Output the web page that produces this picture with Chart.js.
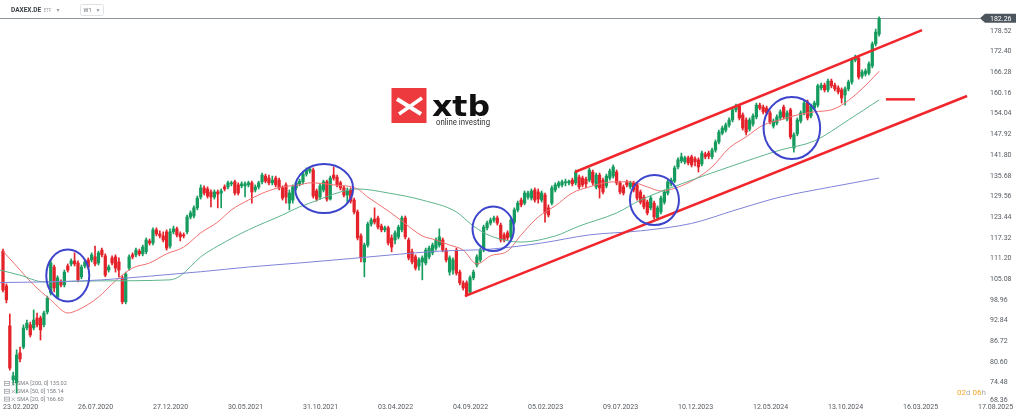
<!DOCTYPE html>
<html><head><meta charset="utf-8">
<script src="https://cdn.jsdelivr.net/npm/chart.js@4.4.1/dist/chart.umd.min.js"></script>
<style>html,body{margin:0;padding:0;background:#fff;overflow:hidden}canvas{display:block}</style>
</head><body>
<canvas id="c" width="1024" height="417" style="width:1024px;height:417px"></canvas>
<script>
// ---- tick labels ----
const dateLabels = ['23.02.2020','26.07.2020','27.12.2020','30.05.2021','31.10.2021','03.04.2022','04.09.2022','05.02.2023','09.07.2023','10.12.2023','12.05.2024','13.10.2024','16.03.2025','17.08.2025'];
const dateTickWeeks = [0,22,44,66,88,110,132,154,176,198,220,242,264,286];
const priceTicks = [178.52,172.40,166.28,160.16,154.04,147.92,141.80,135.68,129.56,123.44,117.32,111.20,105.08,98.96,92.84,86.72,80.60,74.48,68.36];
const lastPrice = 182.26;

// ---- weekly candles (week index = position in arrays) ----
const opens = [
113.4,103.1,91.3,75.3,74.4,83.3,85.0,90.7,91.6,90.7,
93.6,93.6,91.6,95.4,101.0,108.7,99.8,104.3,103.4,109.0,
109.6,110.5,109.9,105.8,109.0,110.8,110.8,111.7,109.9,113.7,
112.0,107.8,111.4,111.7,110.2,105.5,98.4,108.4,112.3,112.3,
113.4,112.6,113.2,116.4,115.8,119.7,118.5,117.9,119.1,114.9,
119.1,120.0,118.5,118.2,119.1,123.5,123.8,126.2,129.4,132.1,
131.8,130.9,129.4,130.9,130.6,132.4,132.4,133.3,133.9,133.0,
132.7,132.7,133.0,133.6,131.5,132.4,133.9,135.6,135.0,133.6,
135.0,134.4,132.1,133.0,127.6,128.5,132.1,133.3,133.9,136.2,
137.1,137.4,131.2,129.4,131.5,133.9,128.8,135.9,135.3,133.6,
132.1,130.0,131.5,128.5,125.0,117.9,110.2,115.2,121.4,122.9,
123.2,120.8,119.7,120.3,117.3,116.7,117.6,119.7,123.2,116.7,
113.2,111.7,109.0,110.2,109.9,111.7,112.9,114.3,115.2,116.7,
113.7,107.2,107.8,113.7,107.2,104.0,104.0,101.3,105.5,109.3,
110.8,113.7,120.3,121.7,122.6,123.2,121.1,118.2,118.8,117.6,
122.0,125.6,128.5,127.6,129.4,129.1,131.5,130.9,128.5,130.0,
126.2,127.6,131.5,132.7,133.0,133.6,133.6,134.4,133.6,135.3,
135.0,134.7,134.4,136.8,132.4,135.9,134.4,132.7,135.0,135.6,
136.8,133.6,132.4,133.9,132.4,133.6,133.0,130.9,129.4,127.9,
126.2,127.6,123.2,125.0,127.9,130.6,133.3,134.1,138.3,140.1,
139.8,141.0,141.3,140.7,140.4,139.2,142.1,142.4,141.3,143.3,
145.7,148.3,149.2,150.7,152.2,155.2,156.3,153.7,152.2,149.5,
151.0,153.1,156.6,156.0,155.7,154.3,150.4,151.3,152.8,156.0,
152.5,155.2,143.9,148.1,151.9,154.3,157.5,153.4,155.7,156.6,
161.7,162.5,161.1,163.7,162.5,161.7,161.1,159.6,161.4,163.4,
169.9,170.5,165.2,165.8,166.1,168.2,174.7,177.6];
const highs = [
114.0,103.7,94.8,77.6,84.2,85.0,91.6,93.0,92.4,96.0,
95.1,94.2,95.7,100.1,110.8,109.3,106.1,104.9,107.8,109.6,
111.1,112.9,110.5,109.3,110.8,111.4,112.9,114.9,113.4,114.3,
112.6,109.3,112.0,112.3,111.4,106.1,107.2,112.3,112.9,114.3,
114.0,115.2,117.3,117.0,120.3,120.3,119.4,119.1,119.7,120.0,
120.8,120.5,119.1,118.8,124.1,125.3,126.8,129.7,133.0,132.7,
132.4,131.5,131.5,131.5,131.8,133.0,134.1,134.1,134.4,133.6,
133.9,133.9,134.1,134.1,133.0,134.1,136.5,136.2,135.9,135.6,
135.6,135.0,132.7,133.6,131.5,133.0,134.1,134.7,136.8,138.0,
138.3,138.0,131.8,133.3,134.4,134.4,135.6,138.3,135.9,134.1,
132.7,132.1,132.1,129.1,125.6,118.5,115.8,122.0,123.2,126.2,
123.8,121.4,120.8,120.8,118.2,119.4,121.1,123.8,123.8,117.3,
114.0,112.3,111.4,112.0,114.3,114.9,115.8,117.3,120.0,117.3,
114.3,112.0,111.4,114.3,107.8,104.6,104.6,106.1,107.8,112.3,
114.3,121.1,122.3,123.2,123.8,123.8,121.7,118.8,119.4,123.2,
126.2,128.2,129.1,131.2,131.2,131.8,132.1,131.8,131.2,130.6,
127.1,132.7,133.6,134.1,134.4,134.7,134.4,135.0,137.4,135.9,
135.6,135.3,138.0,137.4,136.5,136.5,135.0,136.2,137.7,138.9,
137.4,134.1,133.0,134.4,134.1,134.1,133.6,131.5,130.0,128.5,
129.7,128.2,126.8,129.7,131.5,134.4,135.0,138.6,141.0,142.4,
141.5,141.5,141.8,141.3,141.0,143.0,142.7,143.0,143.9,146.3,
149.2,150.4,151.3,152.8,155.7,156.9,156.9,154.3,152.8,152.8,
154.0,157.2,157.2,156.6,156.3,154.9,152.5,153.7,155.2,156.6,
154.9,155.7,148.4,152.8,154.9,157.8,158.1,156.9,157.8,162.8,
163.1,163.1,164.3,164.3,163.1,162.3,161.7,162.0,164.0,170.5,
171.4,171.1,167.0,167.3,169.4,175.3,179.1,182.7];
const lows = [
101.3,98.1,78.2,73.8,71.4,80.6,84.5,90.1,88.0,90.1,
91.0,87.1,91.0,94.8,100.4,101.3,99.3,102.8,102.8,107.2,
109.0,109.0,104.3,105.2,108.4,108.1,110.2,109.0,109.3,111.7,
105.8,107.2,109.3,107.2,105.8,97.8,97.8,107.8,111.1,111.7,
112.0,112.0,112.6,115.2,115.2,117.9,117.3,116.1,113.7,114.3,
118.5,117.6,116.4,117.3,118.5,122.9,123.2,125.6,128.8,130.0,
129.1,126.5,128.8,126.2,126.2,131.2,131.8,132.7,130.0,130.0,
132.1,129.4,132.4,127.6,130.9,131.8,133.3,133.6,133.0,133.0,
132.4,131.5,128.5,127.6,125.6,127.6,131.5,132.7,133.3,135.6,
136.5,129.1,128.2,128.8,130.9,128.2,128.5,134.4,132.4,131.5,
129.4,127.9,127.6,124.4,116.7,110.2,105.8,114.6,120.8,121.4,
120.0,119.1,119.1,115.2,113.2,115.5,117.0,119.1,117.0,110.8,
109.6,107.8,107.8,104.9,109.3,111.1,112.3,113.7,114.6,113.2,
110.2,106.3,106.6,106.3,103.4,101.9,100.1,100.7,104.9,108.7,
110.2,113.2,119.7,121.1,122.0,121.1,116.1,116.1,116.7,117.0,
121.4,125.0,126.5,127.1,128.8,128.5,127.9,127.6,127.9,122.0,
123.5,127.1,130.9,132.1,132.4,132.7,133.0,132.7,133.0,131.8,
132.4,132.1,133.9,133.0,131.8,129.1,130.3,132.1,134.4,135.0,
133.0,130.3,130.0,132.4,131.8,130.9,128.5,127.3,125.9,124.1,
125.6,122.9,122.6,124.4,127.3,130.0,132.7,133.6,137.7,139.5,
139.2,138.9,138.3,138.6,136.8,138.6,140.7,140.7,140.7,142.7,
145.1,147.8,148.6,150.1,151.6,154.6,152.2,149.2,147.8,148.9,
150.4,152.5,155.2,154.0,153.7,151.0,149.8,150.7,152.2,152.5,
151.9,146.6,142.7,147.5,151.3,153.7,152.2,152.8,155.2,156.0,
161.1,160.5,160.5,161.7,160.8,159.9,157.2,156.6,160.8,162.8,
169.4,164.3,164.6,165.2,165.5,167.6,174.1,177.0];
const closes = [
101.9,99.0,78.8,76.5,82.7,81.5,90.7,92.1,88.6,93.0,
91.6,90.1,95.1,99.5,109.9,102.5,105.5,103.4,107.2,107.8,
110.5,109.6,104.9,108.7,110.2,108.7,112.3,109.6,112.9,112.3,
106.3,108.7,109.9,108.4,107.8,98.4,106.6,111.7,111.7,113.7,
112.6,114.6,116.7,115.8,119.7,118.5,117.9,116.7,114.3,119.1,
120.0,118.2,117.6,117.9,123.5,124.7,126.2,129.1,132.1,130.6,
129.7,129.4,130.9,130.3,131.2,131.8,133.6,133.6,130.6,130.6,
133.3,133.3,133.6,130.9,132.4,133.6,135.9,134.1,133.6,134.4,
133.0,132.1,129.1,129.4,130.6,132.4,133.6,134.1,136.2,137.4,
137.7,129.7,128.8,132.7,133.9,128.8,135.0,135.0,133.0,132.1,
130.0,131.2,128.2,125.0,117.3,111.4,115.2,121.4,122.6,122.0,
120.5,119.7,120.3,115.8,114.6,118.8,120.5,123.2,117.6,111.4,
110.2,108.4,110.8,111.4,113.7,114.3,115.2,116.7,117.6,113.7,
110.8,111.4,110.8,106.9,104.0,102.5,100.4,105.5,107.2,111.7,
113.7,120.5,121.7,122.6,123.2,121.7,116.7,116.7,117.3,122.6,
125.6,127.6,127.1,130.6,130.6,131.2,128.5,128.8,130.6,124.7,
124.1,132.1,133.0,133.6,133.9,133.9,134.1,133.3,136.8,132.4,
133.0,133.3,137.4,133.6,135.9,132.1,130.9,135.6,137.1,138.3,
133.6,130.9,130.6,133.0,133.6,131.5,129.1,127.9,126.5,124.7,
129.1,123.5,126.2,129.1,130.9,133.9,134.4,138.0,140.4,141.3,
141.0,139.5,138.9,139.8,138.3,142.4,141.3,141.5,143.3,145.7,
148.6,149.8,150.7,152.2,155.2,156.0,152.8,149.8,148.6,152.2,
153.4,156.6,155.7,154.6,154.3,151.6,151.9,153.1,154.6,153.1,
154.3,147.2,147.8,152.2,154.3,157.2,152.8,156.3,157.2,162.3,
162.5,161.1,163.7,162.3,161.4,160.5,158.7,161.4,163.4,169.9,
170.8,164.9,166.4,166.7,168.8,174.7,178.2,182.26];

// ---- moving averages (week index / value) ----
const sma200Weeks = [-0.9,17,29,43,58,72,87,102,114,128,143,158,172,187,202,215,228,243,257];
const sma200Values = [104.1,104.4,104.9,106.0,107.3,108.7,109.9,111.2,112.3,113.4,114.0,115.8,118.2,119.4,121.6,125.6,129.4,132.4,135.02];
const sma50Weeks = [-0.9,5,12,28,49,52,58,63,72,82,87,90,99,104,113,123,133,138,143,152,162,169,180,187,199,213,228,238,248,257];
const sma50Values = [107.8,106.3,104.3,104.6,104.9,106.1,111.7,114.9,119.7,124.1,126.5,127.6,130.9,131.8,130.6,128.5,125.0,120.8,117.9,116.1,117.9,120.8,124.7,128.5,133.3,138.3,143.3,146.0,152.2,158.14];
const sma20Weeks = [0,5,9,14,19,22,28,33,38,43,48,53,58,63,67,72,77,82,87,90,97,104,107,113,117,123,127,131,135,139,143,148,152,157,162,167,172,179,184,189,193,199,204,208,213,218,223,228,233,238,243,246,250,254,257];
const sma20Values = [113.4,107.8,103.4,99.0,95.1,96.0,99.8,104.6,108.4,109.9,112.6,114.6,118.8,122.0,125.6,128.5,130.9,132.4,133.0,133.6,133.0,131.8,129.4,125.3,122.3,117.9,116.7,115.2,113.7,109.6,112.0,113.4,118.2,123.5,126.8,130.6,132.4,133.9,133.9,132.4,131.2,132.7,135.3,138.3,143.9,147.2,150.7,152.2,153.7,154.6,155.2,156.6,159.6,163.4,166.60];
const smaLegend = ['SMA [200, 0] 135.02','SMA [50, 0] 158.14','SMA [20, 0] 166.60'];

// ---- drawn annotations (week index / price) ----
const channelLowWeeks = [135.5, 282.8];
const channelLowValues = [100.1, 159.3];
const channelHighWeeks = [167.8, 269.6];
const channelHighValues = [136.8, 178.8];
const levelWeeks = [259.0, 267.5];
const levelValues = [158.3, 158.3];
const circleWeeks = [19.0, 94.2, 143.8, 191.1, 231.4];
const circleValues = [106.2, 131.9, 120.0, 128.5, 149.8];

// ---- styles ----
const UP = '#159b5e', DOWN = '#e3222a';
const circleRadii = [[21.5,26],[29,24.5],[20.7,22.2],[24.5,25],[28.3,31]];
const weekIdx = closes.map((_, i) => i);
const candleColors = weekIdx.map(i => closes[i] >= opens[i] ? UP : DOWN);
const pts = (ks, vs) => ks.map((k, i) => ({x: k, y: vs[i]}));

const overlay = {
  id: 'overlay',
  beforeDatasetsDraw(chart) {
    const {ctx, scales: {y}} = chart;
    const py = Math.round(y.getPixelForValue(lastPrice)) + 0.5;
    ctx.save();
    ctx.strokeStyle = '#8e959c'; ctx.lineWidth = 1;
    ctx.beginPath(); ctx.moveTo(0, py); ctx.lineTo(980, py); ctx.stroke();
    ctx.restore();
  },
  afterDatasetsDraw(chart) {
    const {ctx, scales: {x, y}} = chart;
    ctx.save();
    ctx.strokeStyle = '#3d44cc'; ctx.lineWidth = 2;
    circleWeeks.forEach((k, i) => {
      ctx.beginPath();
      ctx.ellipse(x.getPixelForValue(k), y.getPixelForValue(circleValues[i]), circleRadii[i][0], circleRadii[i][1], 0, 0, Math.PI * 2);
      ctx.stroke();
    });
    ctx.restore();
  },
  afterDraw(chart) {
    const {ctx, scales: {y}} = chart;
    ctx.save();
    // price labels
    ctx.font = '7px Roboto'; ctx.fillStyle = '#555b61'; ctx.textAlign = 'left'; ctx.textBaseline = 'middle';
    priceTicks.forEach(v => {
      const py = Math.min(y.getPixelForValue(v), 400);
      ctx.fillText(v.toFixed(2), 990, py);
    });
    // last price tag
    const ty = y.getPixelForValue(lastPrice);
    ctx.fillStyle = '#4c545c';
    ctx.beginPath();
    ctx.moveTo(980, ty); ctx.lineTo(985, ty - 4.5); ctx.lineTo(1016, ty - 4.5); ctx.lineTo(1016, ty + 4.5); ctx.lineTo(985, ty + 4.5); ctx.closePath(); ctx.fill();
    ctx.fillStyle = '#ffffff'; ctx.fillText(lastPrice.toFixed(2), 990, ty + 0.5);
    // header
    ctx.textBaseline = 'middle';
    ctx.font = 'bold 6.5px Roboto'; ctx.fillStyle = '#3a3f44'; ctx.fillText('DAXEX.DE', 11, 10.5);
    const hw = ctx.measureText('DAXEX.DE').width;
    ctx.font = '4.5px Roboto'; ctx.fillStyle = '#9aa0a6'; ctx.fillText('ETF', 11 + hw + 2.5, 10.8);
    ctx.font = '6px DejaVu Sans'; ctx.fillText('\u25BE', 56.5, 10);
    ctx.strokeStyle = '#dfe2e5'; ctx.lineWidth = 1;
    ctx.beginPath(); ctx.roundRect(80.5, 4.5, 23, 11, 2); ctx.stroke();
    ctx.font = '5.5px Roboto'; ctx.fillStyle = '#6a7076'; ctx.fillText('W1', 83.5, 10.5);
    ctx.font = '6px DejaVu Sans'; ctx.fillStyle = '#9aa0a6'; ctx.fillText('\u25BE', 96.5, 10);
    // legend rows
    smaLegend.forEach((t, i) => {
      const ly = 384 + i * 7.8;
      ctx.strokeStyle = '#9ea3a8'; ctx.lineWidth = 0.8;
      ctx.strokeRect(4.5, ly - 2.5, 5, 4);
      ctx.beginPath(); ctx.moveTo(5, ly - 0.5); ctx.lineTo(9.5, ly - 0.5); ctx.stroke();
      ctx.beginPath(); ctx.moveTo(11.5, ly - 2); ctx.lineTo(15, ly + 1.5); ctx.moveTo(15, ly - 2); ctx.lineTo(11.5, ly + 1.5); ctx.stroke();
      ctx.font = '5.6px Roboto'; ctx.fillStyle = '#7a7f85';
      ctx.fillText(t, 17, ly);
    });
    // countdown
    ctx.font = '8px Roboto';
    let cx = 957;
    [['02', '#f5a524'], ['d ', '#a8adb2'], ['06', '#f5a524'], ['h', '#a8adb2']].forEach(([s, c]) => {
      ctx.fillStyle = c; ctx.fillText(s, cx, 392.5); cx += ctx.measureText(s).width;
    });
    // logo
    ctx.fillStyle = '#ec3a3f';
    ctx.fillRect(391.5, 88, 35, 35);
    ctx.strokeStyle = '#ffffff'; ctx.lineCap = 'butt';
    ctx.lineWidth = 4;
    ctx.beginPath(); ctx.moveTo(397, 99); ctx.lineTo(421, 114); ctx.stroke();
    ctx.lineWidth = 3.5;
    ctx.beginPath(); ctx.moveTo(399, 114); ctx.lineTo(422, 98); ctx.stroke();
    ctx.fillStyle = '#ec3a3f';
    ctx.beginPath(); ctx.moveTo(396, 103); ctx.lineTo(403, 106.5); ctx.lineTo(396, 110); ctx.closePath(); ctx.fill();
    ctx.fillStyle = '#111111';
    ctx.font = 'bold 29px "DejaVu Sans"'; ctx.textBaseline = 'alphabetic';
    let w = ctx.measureText('xtb').width;
    ctx.save(); ctx.translate(432, 115.5); ctx.scale(58 / w, 1); ctx.fillText('xtb', 0, 0); ctx.restore();
    ctx.fillStyle = '#333333'; ctx.font = '8.5px Roboto';
    w = ctx.measureText('online investing').width;
    ctx.save(); ctx.translate(436, 124.5); ctx.scale(54 / w, 1); ctx.fillText('online investing', 0, 0); ctx.restore();
    ctx.restore();
  }
};

new Chart(document.getElementById('c'), {
  type: 'bar',
  data: {
    datasets: [
      { type: 'line', data: pts(channelLowWeeks, channelLowValues), borderColor: '#f1262c', borderWidth: 2.5, pointRadius: 0, order: 0 },
      { type: 'line', data: pts(channelHighWeeks, channelHighValues), borderColor: '#f1262c', borderWidth: 2.5, pointRadius: 0, order: 0 },
      { type: 'line', data: pts(levelWeeks, levelValues), borderColor: '#f1262c', borderWidth: 2.5, pointRadius: 0, order: 0 },
      { type: 'line', data: pts(sma200Weeks, sma200Values), borderColor: '#7f83d9', borderWidth: 1, pointRadius: 0, cubicInterpolationMode: 'monotone', order: 1 },
      { type: 'line', data: pts(sma50Weeks, sma50Values), borderColor: '#5db48c', borderWidth: 1, pointRadius: 0, cubicInterpolationMode: 'monotone', order: 1 },
      { type: 'line', data: pts(sma20Weeks, sma20Values), borderColor: '#ef7070', borderWidth: 1, pointRadius: 0, cubicInterpolationMode: 'monotone', order: 1 },
      { type: 'bar', data: weekIdx.map(i => ({x: i, y: [opens[i], closes[i]]})), backgroundColor: candleColors, barThickness: 2.6, minBarLength: 1, grouped: false, borderWidth: 0, order: 2 },
      { type: 'bar', data: weekIdx.map(i => ({x: i, y: [lows[i], highs[i]]})), backgroundColor: candleColors, barThickness: 1, grouped: false, borderWidth: 0, order: 3 }
    ]
  },
  options: {
    responsive: false, animation: false, devicePixelRatio: 1,
    layout: { padding: 0 },
    plugins: { legend: { display: false }, tooltip: { enabled: false } },
    scales: {
      x: {
        type: 'linear', min: -0.88, max: 299.5, offset: false,
        grid: { display: false, drawTicks: false }, border: { display: false },
        afterBuildTicks: s => { s.ticks = dateTickWeeks.map(v => ({value: v})); },
        afterFit: s => { s.height = 17; s.paddingLeft = 0; s.paddingRight = 0; },
        ticks: {
          align: 'start', autoSkip: false, maxRotation: 0, minRotation: 0, padding: 3,
          color: '#555b61', font: { family: 'Roboto', size: 7 },
          callback: v => dateLabels[dateTickWeeks.indexOf(v)]
        }
      },
      y: { type: 'linear', display: false, min: 69.36, max: 187.69, beginAtZero: false }
    }
  },
  plugins: [overlay]
});
</script>
</body></html>
